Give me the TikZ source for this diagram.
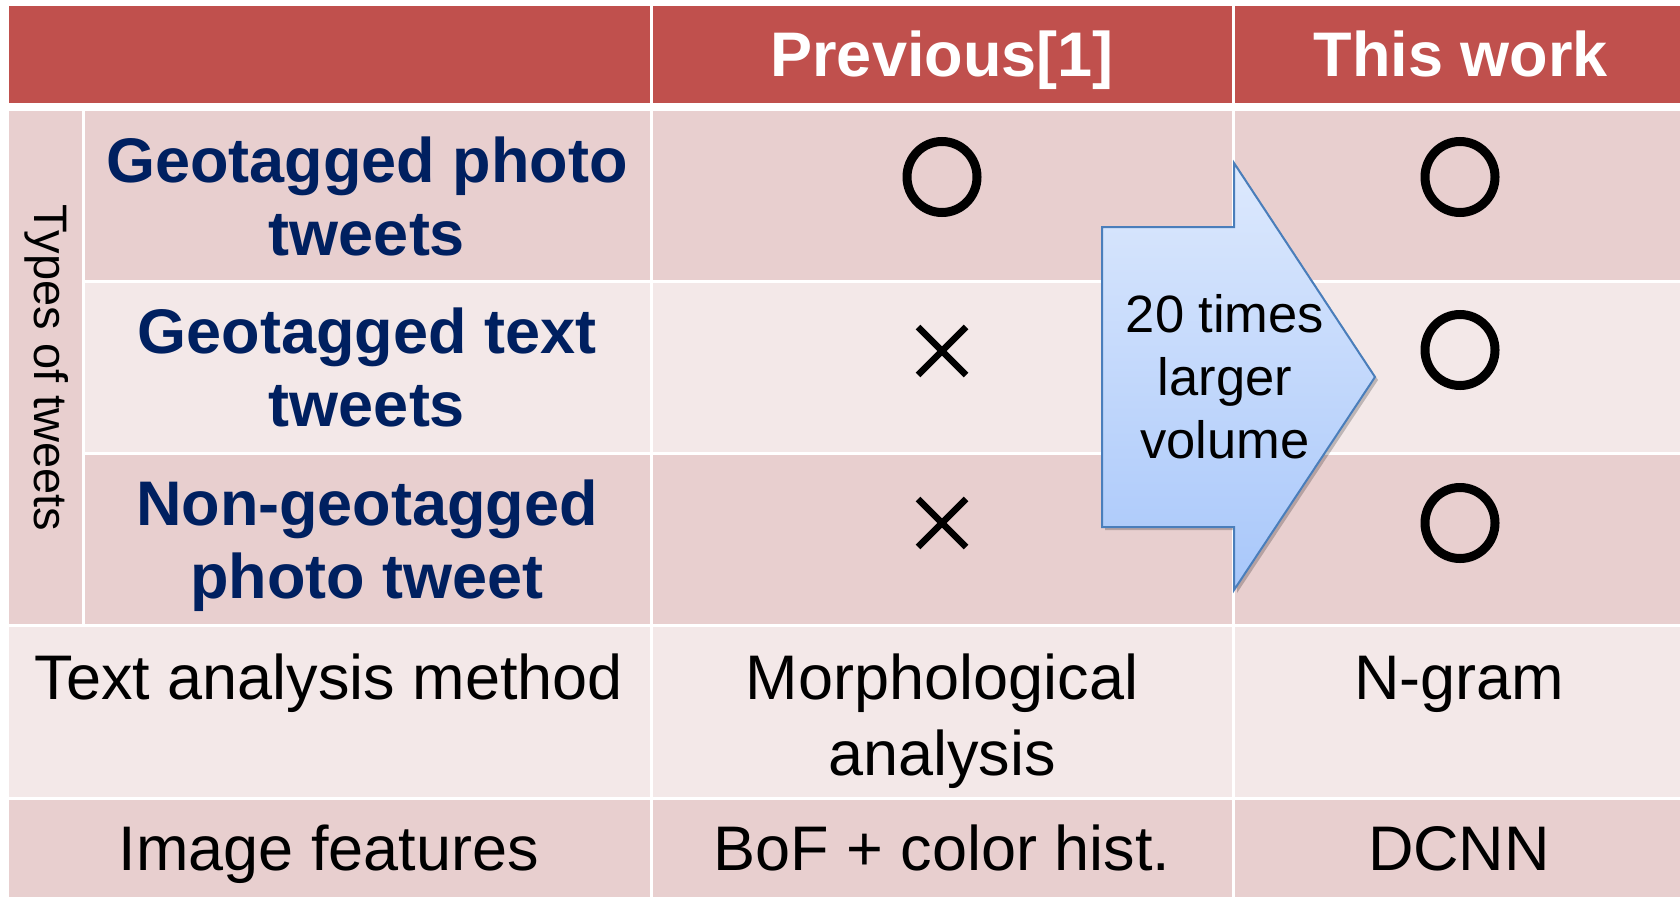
\documentclass[tikz,border=0pt]{standalone}
\usepackage{fontspec}
\setmainfont{Liberation Sans}
\usetikzlibrary{shadows}

\definecolor{hdr}{HTML}{C0504D}
\definecolor{banddark}{HTML}{E8CFCF}
\definecolor{bandlight}{HTML}{F3E8E8}
\definecolor{navy}{HTML}{002060}
\definecolor{arrowline}{HTML}{4A7EBB}
\definecolor{arrowtop}{HTML}{DDE9FD}
\definecolor{arrowbot}{HTML}{A8C7FA}

\newcommand{\cellstack}[1]{\begin{tabular}[t]{@{}c@{}}#1\end{tabular}}

\begin{document}
\begin{tikzpicture}[x=1pt,y=-1pt,
  hdrtext/.style={font=\fontsize{63}{73}\selectfont\bfseries, text=white, anchor=base, inner sep=0pt},
  rowlabel/.style={font=\fontsize{63}{73}\selectfont\bfseries, text=navy, anchor=base, inner sep=0pt},
  celltext/.style={font=\fontsize{63}{76}\selectfont, anchor=base, inner sep=0pt},
  sidetext/.style={font=\fontsize{47}{56}\selectfont, rotate=-90, inner sep=0pt},
  arrowtext/.style={font=\fontsize{52.5}{63}\selectfont, anchor=base, inner sep=0pt},
  yesmark/.style={draw=black, line width=9pt},
  nomark/.style={draw=black, line width=6.5pt},
  gridline/.style={draw=white, line width=3pt},
  bigarrow/.style={draw=arrowline, line width=2pt, line join=miter,
    top color=arrowtop, bottom color=arrowbot,
    drop shadow={shadow xshift=3pt, shadow yshift=-3pt, opacity=0.22, fill=black}},
]
\useasboundingbox (0,0) rectangle (1680,897);
\fill[white] (0,0) rectangle (1680,897);

% cell backgrounds
\fill[hdr]       (9,6)   rectangle (1680,107);
\fill[banddark]  (9,107) rectangle (1680,281);
\fill[banddark]  (9,281) rectangle (83,625);
\fill[bandlight] (83,281) rectangle (1680,453);
\fill[banddark]  (83,453) rectangle (1680,625);
\fill[bandlight] (9,625) rectangle (1680,798);
\fill[banddark]  (9,798) rectangle (1680,897);

% white rules between cells
\draw[draw=white, line width=8pt] (9,107) -- (1680,107);
\draw[gridline] (83,281) -- (1680,281);
\draw[gridline] (83,453) -- (1680,453);
\draw[gridline] (9,625) -- (1680,625);
\draw[gridline] (9,798) -- (1680,798);
\draw[gridline] (651,6) -- (651,897);
\draw[gridline] (1233,6) -- (1233,897);
\draw[gridline] (83.5,111) -- (83.5,625);

% header
\node[hdrtext] (hprev) at (942,76) {Previous[1]};
\node[hdrtext] (hthis) at (1461,76) {This work};

% tweet types
\node[sidetext] (types) at (47,368) {Types of tweets};
\node[rowlabel] (rphoto) at (367,182) {\cellstack{Geotagged photo\\tweets}};
\node[rowlabel] (rtext)  at (367,353) {\cellstack{Geotagged text\\tweets}};
\node[rowlabel] (rnon)   at (367,525) {\cellstack{Non-geotagged\\photo tweet}};

% method rows
\node[celltext] (ltext)  at (329,699) {Text analysis method};
\node[celltext] (pmorph) at (942,699) {\cellstack{Morphological\\analysis}};
\node[celltext] (tngram) at (1459,699) {N-gram};
\node[celltext] (limg)   at (329,870) {Image features};
\node[celltext] (pbof)   at (942,870) {BoF + color hist.};
\node[celltext] (tdcnn)  at (1459,870) {DCNN};

% marks
\draw[yesmark] (942,177) circle [x radius=35, y radius=35.5];
\draw[yesmark] (1460,177) circle [x radius=35, y radius=35.5];
\draw[yesmark] (1460,350) circle [x radius=35, y radius=35.5];
\draw[yesmark] (1460,523) circle [x radius=35, y radius=35.5];
\draw[nomark] (918,327) -- (966,375) (966,327) -- (918,375);
\draw[nomark] (918,499) -- (966,547) (966,499) -- (918,547);

% volume arrow
\path[bigarrow] (1102,227) -- (1234,227) -- (1234,163) -- (1375,377)
  -- (1234,590) -- (1234,527) -- (1102,527) -- cycle;
\node[arrowtext] (vol) at (1225,332) {\cellstack{20 times\\larger\\volume}};
\end{tikzpicture}
\end{document}
